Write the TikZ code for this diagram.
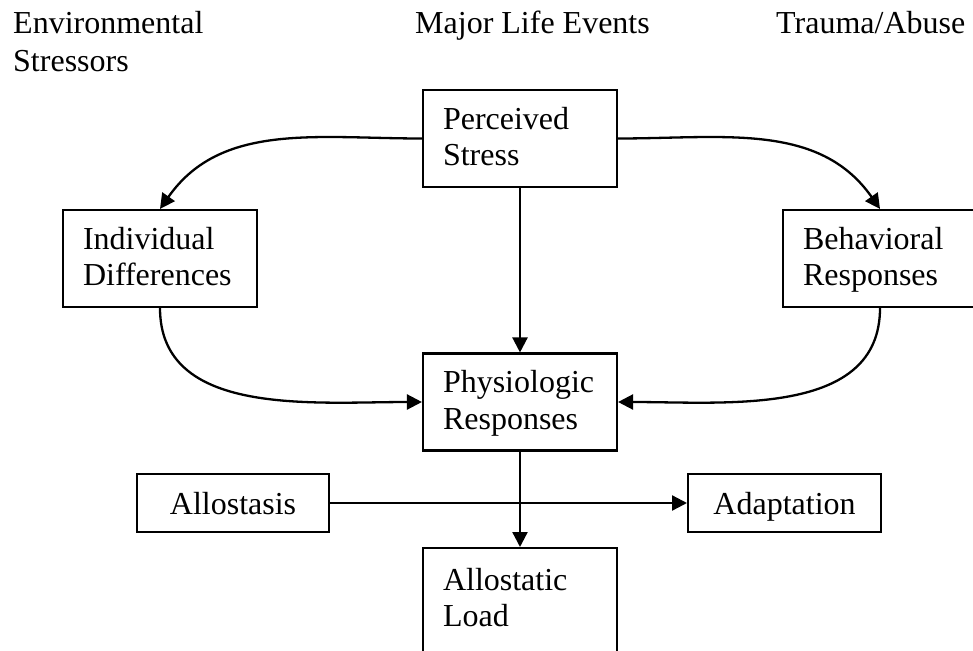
\documentclass[tikz,border=0pt]{standalone}
\usepackage{fontspec}
\setmainfont{Liberation Serif}
\usetikzlibrary{arrows.meta}
\begin{document}
\begin{tikzpicture}[x=1pt,y=-1pt,
  every node/.style={font=\fontsize{32}{36.8}\selectfont},
  lbl/.style={anchor=base west,inner sep=0pt},
  twobox/.style={draw,line width=2.1pt,text width=154pt,inner xsep=20pt,inner ysep=0pt,align=left,minimum height=97pt,minimum width=194pt},
  onebox/.style={draw,line width=2.1pt,inner xsep=20pt,inner ysep=0pt,anchor=west,minimum height=58pt,text height=24pt,text depth=2pt},
  conn/.style={line width=2.3pt,-{Triangle[length=15pt,width=15pt]}}]
\useasboundingbox (0,0) rectangle (973,650);
\clip (0,0) rectangle (973,650);
\fill[white] (0,0) rectangle (973,650);
% top labels
\node[lbl,align=left,font=\fontsize{32}{38.5}\selectfont] (env) at (13,72) {Environmental\\Stressors};
\node[lbl] (mle) at (415,34) {Major Life Events};
\node[lbl] (tra) at (776,34) {Trauma/Abuse};
% boxes
\node[twobox] (ps) at (520,138.5) {\rule{0pt}{29pt}Perceived\\\strut Stress};
\node[twobox] (id) at (160,258.5) {\rule{0pt}{29pt}Individual\\\strut Differences};
\node[twobox] (br) at (880,258.5) {\rule{0pt}{29pt}Behavioral\\\strut Responses};
\node[twobox] (ph) at (520,402) {\rule{0pt}{29pt}Physiologic\\\strut Responses};
\node[onebox,minimum width=192pt] (als) at (136,503) {Allostasis};
\node[onebox,minimum width=193pt] (ada) at (687,503) {Adaptation};
\node[twobox,anchor=north,minimum height=122pt] (all) at (520,547) {\strut Allostatic\\\strut Load\rule[-27pt]{0pt}{1pt}};
% connectors
\draw[conn] (ps.south) -- (ph.north);
\draw[conn] (ps.west) to[out=180,in=55] (id.north);
\draw[conn] (ps.east) to[out=0,in=125] (br.north);
\draw[conn] (id.south) to[out=-90,in=180] (ph.west);
\draw[conn] (br.south) to[out=-90,in=0] (ph.east);
\draw[conn] (ph.south) -- (all.north);
\draw[conn] (als.east) -- (ada.west);
\end{tikzpicture}
\end{document}
